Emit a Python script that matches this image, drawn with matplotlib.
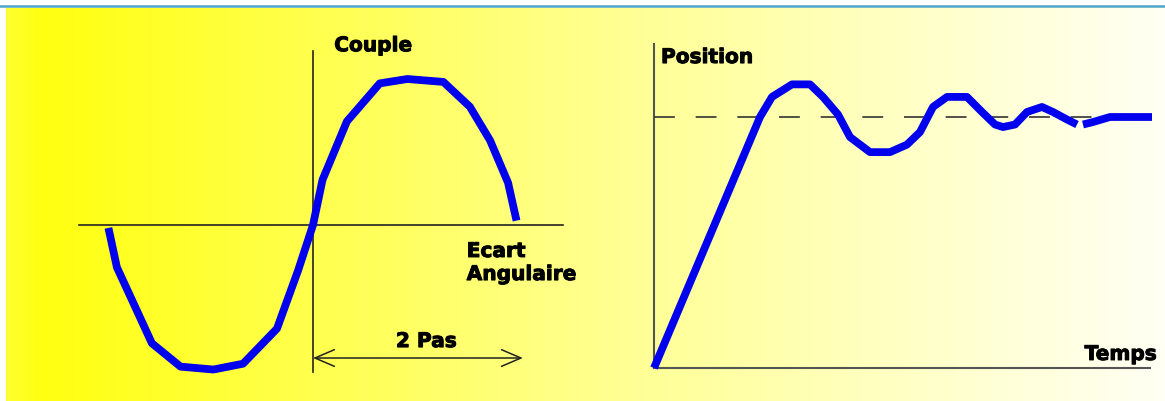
import numpy as np
import matplotlib
matplotlib.use("Agg")
import matplotlib.pyplot as plt
import matplotlib.patheffects as pe
from matplotlib.colors import LinearSegmentedColormap

# --- Data ---
# left: couple vs ecart angulaire (ecart in "pas", couple normalised)
ecart = [-1.93, -1.85, -1.71, -1.52, -1.25, -0.94, -0.66, -0.34, -0.14, 0.0,
         0.09, 0.32, 0.63, 0.89, 1.23, 1.48, 1.67, 1.84, 1.92]
couple = [-0.02, -0.29, -0.51, -0.81, -0.97, -0.99, -0.95, -0.71, -0.31, 0.0,
          0.31, 0.71, 0.97, 1.0, 0.98, 0.81, 0.58, 0.29, 0.03]

# right: position vs temps (position normalised to the set point)
temps = [0, 21.2, 23.6, 27.6, 31.2, 33.8, 36.8, 39.2, 43.2, 47.2, 50.6, 53.2,
         55.8, 58.6, 62.6, 65.6, 68.2, 69.8, 72.2, 74.6, 77.6, 79.8, 82.6, 84.6,
         85.2, 85.8, 87.8, 91.2, 99.6]
position = [0, 1.0, 1.08, 1.13, 1.13, 1.08, 1.01, 0.92, 0.86, 0.86, 0.89, 0.94,
            1.04, 1.08, 1.08, 1.02, 0.97, 0.96, 0.97, 1.02, 1.04, 1.02, 0.99, 0.97,
            np.nan, 0.97, 0.98, 1.0, 1.0]
consigne = 1.0

W, H = 1165, 401
fig = plt.figure(figsize=(W / 100, H / 100), dpi=100)

# --- Background (pixel space) ---
bg = fig.add_axes([0, 0, 1, 1])
bg.set_xlim(0, W)
bg.set_ylim(H, 0)
bg.axis("off")
cmap = LinearSegmentedColormap.from_list(
    "jaune", [(0.0, "#ffff30"), (0.03, "#ffff10"), (0.5, "#ffff8c"), (1.0, "#fffff4")])
grad = np.linspace(0, 1, 512).reshape(1, -1)
bg.imshow(grad, cmap=cmap, aspect="auto", extent=[6, W, H, 8], interpolation="bilinear")
bg.axhline(5.5, color="#4aa6c4", lw=1.8)

blue = "#0000ee"
lw_curve = 5.6
bold = dict(fontsize=14.5, fontweight="bold",
            path_effects=[pe.withStroke(linewidth=0.7, foreground="black")])

# --- Left chart: Couple ---
# pixel mapping: x = 313 + 106*ecart, y = 225 - 146*couple
axl = fig.add_axes([0, 0, 1, 1])
axl.patch.set_alpha(0)
axl.axis("off")
axl.set_xlim((0 - 313) / 106, (W - 313) / 106)
axl.set_ylim((225 - H) / 146, (225 - 0) / 146)

axl.plot([-2.21, 2.36], [0, 0], color="#222222", lw=1.2)
axl.plot([0, 0], [-1.01, 1.19], color="#222222", lw=1.2)
axl.plot(ecart, couple, color=blue, lw=lw_curve, solid_capstyle="butt", solid_joinstyle="round")
axl.annotate("", xy=(0, -0.911), xytext=(1.98, -0.911),
             arrowprops=dict(arrowstyle="<->,head_length=0.7,head_width=0.3",
                             color="#222222", lw=1.1, mutation_scale=20,
                             shrinkA=0, shrinkB=0))
axl.text(0.2, 1.19, "Couple", va="baseline", ha="left", **bold)
axl.text(1.45, -0.219, "Ecart", va="baseline", ha="left", **bold)
axl.text(1.45, -0.377, "Angulaire", va="baseline", ha="left", **bold)
axl.text(1.07, -0.836, "2 Pas", va="baseline", ha="center", **bold)

# --- Right chart: Position ---
# pixel mapping: x = 654 + 5*temps, y = 368 - 251*position
axr = fig.add_axes([0, 0, 1, 1])
axr.patch.set_alpha(0)
axr.axis("off")
axr.set_xlim((0 - 654) / 5, (W - 654) / 5)
axr.set_ylim((368 - H) / 251, (368 - 0) / 251)

axr.plot([0, 99.2], [0, 0], color="#555555", lw=1.5)
axr.plot([0, 0], [0, 1.29], color="#555555", lw=1.5)
axr.plot([0, 89.2], [consigne, consigne], color="#333333", lw=1.2, dashes=(12.5, 12.5))
axr.plot(temps, position, color=blue, lw=lw_curve, solid_capstyle="butt", solid_joinstyle="round")
axr.text(1.4, 1.215, "Position", va="baseline", ha="left", **bold)
axr.text(100.6, 0.032, "Temps", va="baseline", ha="right", **bold)

fig.savefig("out.png", dpi=100, facecolor="white")
